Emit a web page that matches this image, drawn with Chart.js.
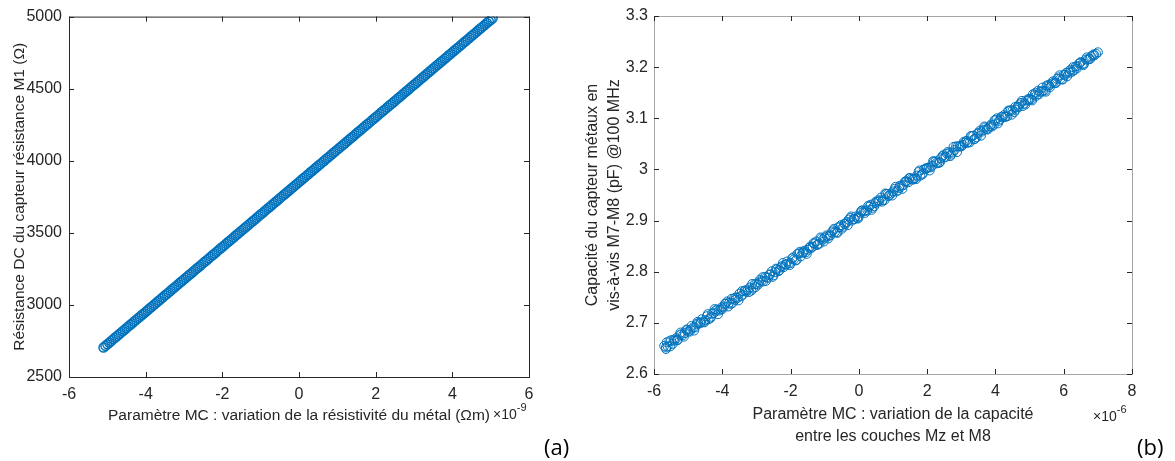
<!DOCTYPE html>
<html>
<head>
<meta charset="utf-8">
<script src="https://cdn.jsdelivr.net/npm/chart.js@4"></script>
<style>
body{margin:0;background:#fff;width:1175px;height:461px;position:relative;overflow:hidden}
canvas{position:absolute;top:0}
#c1{left:0}
#c2{left:580px}
.tag{position:absolute;font-family:"Open Sans",sans-serif;font-size:22px;color:#000}
</style>
</head>
<body>
<canvas id="c1" width="580" height="461"></canvas>
<canvas id="c2" width="595" height="461"></canvas>
<div class="tag" style="left:544px;top:431px">(a)</div>
<div class="tag" style="left:1137px;top:431px">(b)</div>
<script>

/* DONNEES (a) : resistivite x1e-9, resistance en ohm */

const resX=[-5.1,-5.0,-4.9,-4.8,-4.7,-4.6,-4.5,-4.4,-4.3,-4.2,-4.1,-4.0,-3.9,-3.8,-3.7,-3.6,-3.5,-3.4,-3.3,-3.2,-3.1,-3.0,-2.9,-2.8,-2.7,-2.6,-2.5,-2.4,-2.3,-2.2,-2.1,-2.0,-1.9,-1.8,-1.7,-1.6,-1.5,-1.4,-1.3,-1.2,-1.1,-1.0,-0.9,-0.8,-0.7,-0.6,-0.5,-0.4,-0.3,-0.2,-0.1,0.0,0.1,0.2,0.3,0.4,0.5,0.6,0.7,0.8,0.9,1.0,1.1,1.2,1.3,1.4,1.5,1.6,1.7,1.8,1.9,2.0,2.1,2.2,2.3,2.4,2.5,2.6,2.7,2.8,2.9,3.0,3.1,3.2,3.3,3.4,3.5,3.6,3.7,3.8,3.9,4.0,4.1,4.2,4.3,4.4,4.5,4.6,4.7,4.8,4.9,5.0,5.05,
-5.05,-4.95,-4.85,-4.75,-4.65,-4.55,-4.45,-4.35,-4.25,-4.15,-4.05,-3.95,-3.85,-3.75,-3.65,-3.55,-3.45,-3.35,-3.25,-3.15,-3.05,-2.95,-2.85,-2.75,-2.65,-2.55,-2.45,-2.35,-2.25,-2.15,-2.05,-1.95,-1.85,-1.75,-1.65,-1.55,-1.45,-1.35,-1.25,-1.15,-1.05,-0.95,-0.85,-0.75,-0.65,-0.55,-0.45,-0.35,-0.25,-0.15,-0.05,0.05,0.15,0.25,0.35,0.45,0.55,0.65,0.75,0.85,0.95,1.05,1.15,1.25,1.35,1.45,1.55,1.65,1.75,1.85,1.95,2.05,2.15,2.25,2.35,2.45,2.55,2.65,2.75,2.85,2.95,3.05,3.15,3.25,3.35,3.45,3.55,3.65,3.75,3.85,3.95,4.05,4.15,4.25,4.35,4.45,4.55,4.65,4.75,4.85,4.95]

const resY=[2705,2727,2750,2772,2795,2817,2840,2862,2885,2907,2930,2952,2975,2997,3020,3042,3065,3087,3110,3132,3155,3177,3200,3222,3245,3267,3290,3312,3335,3357,3380,3402,3425,3447,3470,3492,3515,3537,3560,3582,3605,3627,3650,3672,3695,3717,3740,3762,3785,3807,3830,3852,3875,3897,3920,3942,3965,3987,4010,4032,4055,4077,4100,4122,4145,4167,4190,4212,4235,4257,4280,4302,4325,4347,4370,4392,4415,4437,4460,4482,4505,4527,4550,4572,4595,4617,4640,4662,4685,4707,4730,4752,4775,4797,4820,4842,4865,4887,4910,4932,4955,4977,4988,
2716,2738,2761,2783,2806,2828,2851,2873,2896,2918,2941,2963,2986,3008,3031,3053,3076,3098,3121,3143,3166,3188,3211,3233,3256,3278,3301,3323,3346,3368,3391,3413,3436,3458,3481,3503,3526,3548,3571,3593,3616,3638,3661,3683,3706,3728,3751,3773,3796,3818,3841,3863,3886,3908,3931,3953,3976,3998,4021,4043,4066,4088,4111,4133,4156,4178,4201,4223,4246,4268,4291,4313,4336,4358,4381,4403,4426,4448,4471,4493,4516,4538,4561,4583,4606,4628,4651,4673,4696,4718,4741,4763,4786,4808,4831,4853,4876,4898,4921,4943,4966]

/* DONNEES (b) : capacite inter-couches x1e-6, capacite en pF */

const capX=[-5.7,-5.65,-5.6,-5.5,-5.4,-5.3,-5.2,-5.1,-5.0,-4.9,-4.8,-4.7,-4.6,-4.5,-4.4,-4.3,-4.2,-4.1,-4.0,-3.9,-3.8,-3.7,-3.6,-3.5,-3.4,-3.3,-3.2,-3.1,-3.0,-2.9,-2.8,-2.7,-2.6,-2.5,-2.4,-2.3,-2.2,-2.1,-2.0,-1.9,-1.8,-1.7,-1.6,-1.5,-1.4,-1.3,-1.2,-1.1,-1.0,-0.9,-0.8,-0.7,-0.6,-0.5,-0.4,-0.3,-0.2,-0.1,0.0,0.1,0.2,0.3,0.4,0.5,0.6,0.7,0.8,0.9,1.0,1.1,1.2,1.3,1.4,1.5,1.6,1.7,1.8,1.9,2.0,2.1,2.2,2.3,2.4,2.5,2.6,2.7,2.8,2.9,3.0,3.1,3.2,3.3,3.4,3.5,3.6,3.7,3.8,3.9,4.0,4.1,4.2,4.3,4.4,4.5,4.6,4.7,4.8,4.9,5.0,5.1,5.2,5.3,5.4,5.5,5.6,5.7,5.8,5.9,6.0,6.1,6.2,6.3,6.4,6.5,6.6,6.7,6.8,6.9,6.95,7.0,
-5.65,-5.55,-5.45,-5.35,-5.25,-5.15,-5.05,-4.95,-4.85,-4.75,-4.65,-4.55,-4.45,-4.35,-4.25,-4.15,-4.05,-3.95,-3.85,-3.75,-3.65,-3.55,-3.45,-3.35,-3.25,-3.15,-3.05,-2.95,-2.85,-2.75,-2.65,-2.55,-2.45,-2.35,-2.25,-2.15,-2.05,-1.95,-1.85,-1.75,-1.65,-1.55,-1.45,-1.35,-1.25,-1.15,-1.05,-0.95,-0.85,-0.75,-0.65,-0.55,-0.45,-0.35,-0.25,-0.15,-0.05,0.05,0.15,0.25,0.35,0.45,0.55,0.65,0.75,0.85,0.95,1.05,1.15,1.25,1.35,1.45,1.55,1.65,1.75,1.85,1.95,2.05,2.15,2.25,2.35,2.45,2.55,2.65,2.75,2.85,2.95,3.05,3.15,3.25,3.35,3.45,3.55,3.65,3.75,3.85,3.95,4.05,4.15,4.25,4.35,4.45,4.55,4.65,4.75,4.85,4.95,5.05,5.15,5.25,5.35,5.45,5.55,5.65,5.75,5.85,5.95,6.05,6.15,6.25,6.35,6.45,6.55,6.65,6.75,6.85,
-5.625,-5.525,-5.425,-5.325,-5.225,-5.125,-5.025,-4.925,-4.825,-4.725,-4.625,-4.525,-4.425,-4.325,-4.225,-4.125,-4.025,-3.925,-3.825,-3.725,-3.625,-3.525,-3.425,-3.325,-3.225,-3.125,-3.025,-2.925,-2.825,-2.725,-2.625,-2.525,-2.425,-2.325,-2.225,-2.125,-2.025,-1.925,-1.825,-1.725,-1.625,-1.525,-1.425,-1.325,-1.225,-1.125,-1.025,-0.925,-0.825,-0.725,-0.625,-0.525,-0.425,-0.325,-0.225,-0.125,-0.025,0.075,0.175,0.275,0.375,0.475,0.575,0.675,0.775,0.875,0.975,1.075,1.175,1.275,1.375,1.475,1.575,1.675,1.775,1.875,1.975,2.075,2.175,2.275,2.375,2.475,2.575,2.675,2.775,2.875,2.975,3.075,3.175,3.275,3.375,3.475,3.575,3.675,3.775,3.875,3.975,4.075,4.175,4.275,4.375,4.475,4.575,4.675,4.775,4.875,4.975,5.075,5.175,5.275,5.375,5.475,5.575,5.675,5.775,5.875,5.975,6.075,6.175,6.275,6.375,6.475,6.575,6.675,6.775,6.875]

const capY=[2.655,2.649,2.654,2.666,2.665,2.667,2.678,2.680,2.683,2.694,2.691,2.699,2.707,2.705,2.707,2.718,2.724,2.724,2.727,2.738,2.739,2.739,2.750,2.757,2.755,2.761,2.769,2.767,2.776,2.784,2.781,2.789,2.795,2.793,2.805,2.808,2.809,2.820,2.817,2.824,2.835,2.830,2.841,2.843,2.846,2.855,2.854,2.865,2.867,2.865,2.877,2.878,2.887,2.884,2.893,2.902,2.900,2.908,2.908,2.920,2.919,2.927,2.925,2.937,2.938,2.940,2.952,2.950,2.957,2.957,2.968,2.969,2.976,2.983,2.981,2.988,2.988,3.000,3.003,3.004,3.015,3.012,3.022,3.023,3.034,3.029,3.038,3.045,3.045,3.052,3.053,3.065,3.060,3.072,3.074,3.082,3.082,3.084,3.097,3.095,3.102,3.103,3.114,3.115,3.117,3.127,3.124,3.135,3.137,3.147,3.144,3.152,3.154,3.164,3.161,3.169,3.177,3.177,3.185,3.182,3.195,3.194,3.202,3.210,3.207,3.215,3.221,3.223,3.226,3.229,
2.652,2.664,2.659,2.670,2.676,2.676,2.687,2.683,2.691,2.698,2.699,2.702,2.713,2.709,2.719,2.726,2.726,2.732,2.742,2.737,2.748,2.749,2.752,2.763,2.765,2.763,2.776,2.775,2.782,2.790,2.788,2.801,2.799,2.801,2.811,2.814,2.816,2.826,2.822,2.836,2.837,2.838,2.847,2.849,2.859,2.855,2.863,2.871,2.871,2.881,2.877,2.887,2.888,2.897,2.905,2.903,2.905,2.916,2.918,2.920,2.931,2.928,2.937,2.945,2.940,2.952,2.953,2.962,2.959,2.968,2.976,2.975,2.982,2.983,2.995,2.990,3.001,3.004,3.007,3.016,3.013,3.026,3.025,3.032,3.033,3.045,3.045,3.048,3.056,3.053,3.066,3.063,3.076,3.077,3.079,3.085,3.087,3.100,3.098,3.106,3.104,3.116,3.112,3.123,3.130,3.129,3.135,3.137,3.146,3.154,3.152,3.154,3.165,3.168,3.169,3.180,3.176,3.185,3.192,3.191,3.201,3.207,3.206,3.215,3.216,3.223,
2.662,2.654,2.667,2.666,2.681,2.673,2.686,2.687,2.685,2.702,2.701,2.701,2.717,2.712,2.727,2.717,2.730,2.737,2.732,2.747,2.745,2.744,2.762,2.763,2.760,2.776,2.770,2.779,2.789,2.782,2.794,2.790,2.806,2.803,2.817,2.814,2.813,2.828,2.823,2.839,2.838,2.835,2.849,2.856,2.852,2.867,2.859,2.869,2.871,2.884,2.876,2.891,2.894,2.891,2.908,2.903,2.904,2.919,2.915,2.929,2.921,2.934,2.940,2.937,2.953,2.948,2.949,2.966,2.964,2.962,2.977,2.983,2.980,2.981,2.998,2.992,3.002,2.998,3.016,3.013,3.014,3.028,3.031,3.026,3.044,3.034,3.046,3.054,3.052,3.065,3.059,3.070,3.066,3.084,3.078,3.088,3.096,3.090,3.103,3.103,3.115,3.107,3.122,3.122,3.134,3.127,3.138,3.135,3.150,3.147,3.160,3.152,3.164,3.172,3.169,3.184,3.176,3.189,3.189,3.200,3.197,3.208,3.204,3.219,3.216,3.225]

/* AXES */

const resXTicks=[-6,6,2]
const resYTicks=[2500,5000,500]
const capXTicks=[-6,8,2]
const capYTicks=[2.6,3.3,0.1]

const bleu="#0072BD"
const texte="#262626"

Chart.defaults.font.family="'Liberation Sans', Arial, sans-serif"
Chart.defaults.font.size=16
Chart.defaults.color=texte

const fmt=v=>String(parseFloat(v.toFixed(3)))

/* cadre + graduations vers l'interieur, style matlab */
const cadre={
id:"cadre",
afterDraw(chart,args,opts){
const {ctx,chartArea:a,scales}=chart
ctx.save()
ctx.lineWidth=1
ctx.strokeStyle=opts.boxColor
ctx.strokeRect(a.left+0.5,a.top+0.5,a.right-a.left,a.bottom-a.top)
ctx.strokeStyle=opts.tickColor
ctx.beginPath()
scales.x.ticks.forEach(t=>{
const px=Math.round(scales.x.getPixelForValue(t.value))+0.5
ctx.moveTo(px,a.bottom);ctx.lineTo(px,a.bottom-5)
ctx.moveTo(px,a.top);ctx.lineTo(px,a.top+5)
})
scales.y.ticks.forEach(t=>{
const py=Math.round(scales.y.getPixelForValue(t.value))+0.5
ctx.moveTo(a.left,py);ctx.lineTo(a.left+5,py)
ctx.moveTo(a.right,py);ctx.lineTo(a.right-5,py)
})
ctx.stroke()
// exposant
ctx.fillStyle=texte
ctx.textBaseline="middle"
ctx.font="14px 'Liberation Sans', Arial, sans-serif"
ctx.fillText("×10",opts.expX,opts.expY)
const w=ctx.measureText("×10").width
ctx.font="11px 'Liberation Sans', Arial, sans-serif"
ctx.fillText(opts.exp,opts.expX+w,opts.expY-7)
ctx.restore()
}
}

function faire(id,xs,ys,xt,yt,cfg){

return new Chart(document.getElementById(id),{
type:"scatter",
data:{
datasets:[{
data:xs.map((x,i)=>({x:x,y:ys[i]})),
borderColor:bleu,
backgroundColor:"rgba(0,0,0,0)",
borderWidth:cfg.bw,
pointRadius:4.5,
pointHoverRadius:4.5
}]
},
options:{
responsive:false,
animation:false,
devicePixelRatio:1,
layout:{padding:cfg.pad},
plugins:{legend:{display:false},tooltip:{enabled:false},cadre:cfg.cadre},
scales:{
x:{
min:xt[0],max:xt[1],
afterFit:s=>{s.height=cfg.xh},
grid:{display:false,drawTicks:false},
border:{display:false},
ticks:{stepSize:xt[2],padding:8,callback:fmt,maxRotation:0},
title:{display:true,text:cfg.xTitle,font:{size:cfg.xfs,lineHeight:cfg.lh},padding:{top:0,bottom:cfg.xtp}}
},
y:{
min:yt[0],max:yt[1],
afterFit:s=>{s.width=cfg.yw},
grid:{display:false,drawTicks:false},
border:{display:false},
ticks:{stepSize:yt[2],padding:cfg.ypad,callback:fmt},
title:{display:true,text:cfg.yTitle,font:{size:cfg.yfs,lineHeight:cfg.ylh},padding:{top:cfg.ytp,bottom:0}}
}
}
},
plugins:[cadre]
})

}

faire("c1",resX,resY,resXTicks,resYTicks,{
bw:1.5,
pad:{top:14,right:51,bottom:0,left:0},
xh:84,yw:69,ypad:7,lh:1.2,ylh:1.2,xfs:15.5,yfs:15.5,xtp:36,ytp:10,
xTitle:"Paramètre MC : variation de la résistivité du métal (Ωm)",
yTitle:"Résistance DC du capteur résistance M1 (Ω)",
cadre:{boxColor:"#262626",tickColor:"#262626",exp:"-9",expX:493,expY:415}
})

faire("c2",capX,capY,capXTicks,capYTicks,{
bw:1,
pad:{top:16,right:43,bottom:0,left:0},
xh:87,yw:74,ypad:6,lh:1.375,ylh:1.375,xfs:16,yfs:16,xtp:13,ytp:2,
xTitle:["Paramètre MC : variation de la capacité","entre les couches Mz et M8"],
yTitle:["Capacité du capteur métaux en","vis-à-vis M7-M8 (pF) @100 MHz"],
cadre:{boxColor:"#a6a6a6",tickColor:"#262626",exp:"-6",expX:513,expY:417}
})

</script>
</body>
</html>
